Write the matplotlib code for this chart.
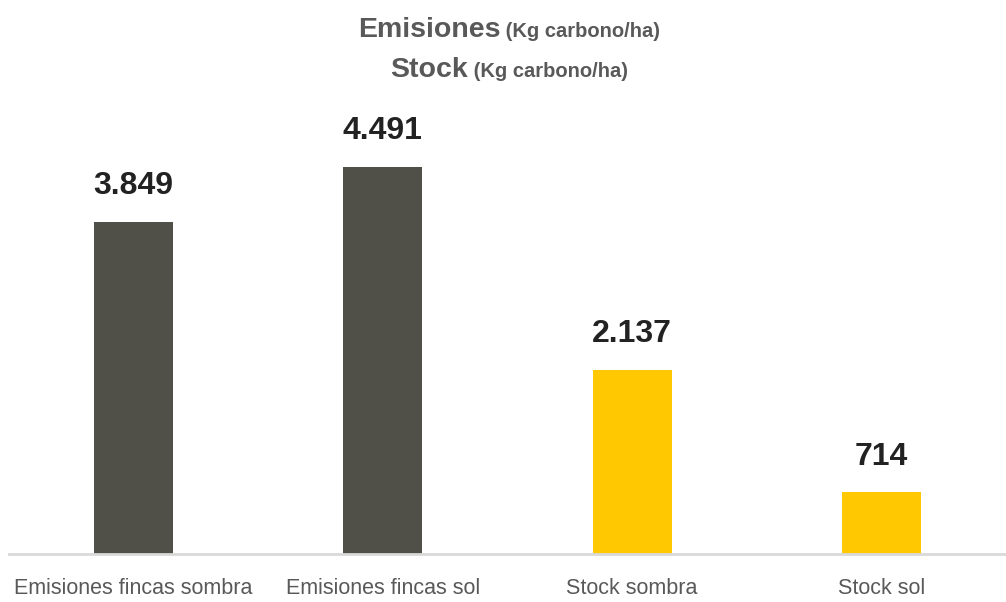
import matplotlib
matplotlib.use("Agg")
import matplotlib.pyplot as plt

categories = ["Emisiones fincas sombra", "Emisiones fincas sol", "Stock sombra", "Stock sol"]
values = [3849, 4491, 2137, 714]
labels = ["3.849", "4.491", "2.137", "714"]
colors = ["#505049", "#505049", "#FFC800", "#FFC800"]

sans = ["Liberation Sans", "DejaVu Sans"]

fig = plt.figure(figsize=(10.06, 6.02), dpi=100)
ax = fig.add_axes([0.009, 0.0797, 0.991, 0.754])

x = range(len(categories))
ax.bar(x, values, width=0.317, color=colors)
ax.set_xlim(-0.5, 3.5)
ax.set_ylim(0, 5267)

for i, (v, lab) in enumerate(zip(values, labels)):
    ax.annotate(lab, (i, v), xytext=(0, 15), textcoords="offset points",
                ha="center", va="bottom", fontsize=23, fontweight="bold",
                color="#222222", family=sans)

for s in ["top", "right", "left"]:
    ax.spines[s].set_visible(False)
ax.spines["bottom"].set_color("#d9d9d9")
ax.spines["bottom"].set_linewidth(2)
ax.set_yticks([])
ax.set_xticks(list(x))
ax.set_xticklabels(categories, fontsize=15.5, color="#595959", family=sans)
ax.tick_params(axis="x", length=0, pad=17)

# title: big bold word + smaller bold unit, centred line by line
renderer = fig.canvas.get_renderer()
cx = 0.506
for big, small, y in [("Emisiones", "(Kg carbono/ha)", 0.939), ("Stock", "(Kg carbono/ha)", 0.872)]:
    t1 = fig.text(0, y, big, fontsize=20.5, fontweight="bold", color="#595959",
                  family=sans, va="baseline")
    t2 = fig.text(0, y, " " + small, fontsize=14.5, fontweight="bold", color="#595959",
                  family=sans, va="baseline")
    w1 = t1.get_window_extent(renderer).width / fig.bbox.width
    w2 = t2.get_window_extent(renderer).width / fig.bbox.width
    left = cx - (w1 + w2) / 2
    t1.set_x(left)
    t2.set_x(left + w1)

fig.savefig("out.png", dpi=100)
